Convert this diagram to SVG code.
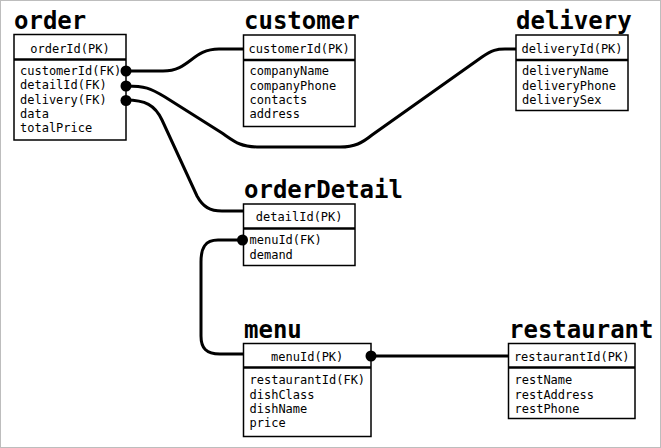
<svg xmlns="http://www.w3.org/2000/svg" width="661" height="448" viewBox="0 0 661 448">
  <style>
    .title { font-family: "DejaVu Sans Mono", "Liberation Mono", monospace; font-size: 24px; font-weight: bold; fill: #000; }
    .field { font-family: "DejaVu Sans Mono", "Liberation Mono", monospace; font-size: 12px; fill: #000; }
    .pk { text-anchor: middle; }
    .box { fill: #fff; stroke: #000; stroke-width: 1.5; }
    .div { stroke: #000; stroke-width: 2.5; }
    .link { fill: none; stroke: #000; stroke-width: 3; }
    .dot { fill: #000; }
  </style>

  <rect x="0.5" y="0.5" width="660" height="447" fill="#fff" stroke="#bdbdbd" stroke-width="1"/>

  <!-- relationships -->
  <g id="connectors">
    <path class="link" d="M126,71 H163 C190,71 192,49 219,49 H243"/>
    <path class="link" d="M126,86 C145,86 150,88 165,97 L222,133 C235,142 240,147 260,147 L340,147 C355,147 362,143 372,135 L482,57 C492,50 497,49 505,49 H516"/>
    <path class="link" d="M126,100 C145,100 155,105 162,120 L197,196 C203,207 210,211 222,211 H243"/>
    <path class="link" d="M243,240 H218 C205,240 201,248 201,262 V336 C201,348 206,354 220,354 H243"/>
    <path class="link" d="M371,356 H508"/>
  </g>

  <g id="order">
    <text class="title" x="14" y="29">order</text>
    <rect class="box" x="14" y="34.5" width="112" height="105.5"/>
    <line class="div" x1="14" y1="59.5" x2="126" y2="59.5"/>
    <text class="field pk" x="70" y="53">orderId(PK)</text>
    <text class="field" x="20" y="75">customerId(FK)</text>
    <text class="field" x="20" y="89.3">detailId(FK)</text>
    <text class="field" x="20" y="103.6">delivery(FK)</text>
    <text class="field" x="20" y="117.9">data</text>
    <text class="field" x="20" y="132.2">totalPrice</text>
    <circle class="dot" cx="126" cy="71" r="5.5"/>
    <circle class="dot" cx="126" cy="86" r="5.5"/>
    <circle class="dot" cx="126" cy="100.5" r="5.5"/>
  </g>

  <g id="customer">
    <text class="title" x="244" y="29">customer</text>
    <rect class="box" x="243.5" y="35" width="111.5" height="91.5"/>
    <line class="div" x1="243.5" y1="60" x2="355" y2="60"/>
    <text class="field pk" x="299.2" y="53">customerId(PK)</text>
    <text class="field" x="249.5" y="75.3">companyName</text>
    <text class="field" x="249.5" y="89.6">companyPhone</text>
    <text class="field" x="249.5" y="103.9">contacts</text>
    <text class="field" x="249.5" y="118.2">address</text>
  </g>

  <g id="delivery">
    <text class="title" x="516" y="29">delivery</text>
    <rect class="box" x="516" y="35" width="112" height="75.5"/>
    <line class="div" x1="516" y1="60" x2="628" y2="60"/>
    <text class="field pk" x="572" y="53">deliveryId(PK)</text>
    <text class="field" x="522" y="75.3">deliveryName</text>
    <text class="field" x="522" y="89.6">deliveryPhone</text>
    <text class="field" x="522" y="103.9">deliverySex</text>
  </g>

  <g id="orderDetail">
    <text class="title" x="244" y="198">orderDetail</text>
    <rect class="box" x="243.5" y="204" width="111.5" height="61.5"/>
    <line class="div" x1="243.5" y1="228.5" x2="355" y2="228.5"/>
    <text class="field pk" x="299.2" y="221">detailId(PK)</text>
    <text class="field" x="249.5" y="244.2">menuId(FK)</text>
    <text class="field" x="249.5" y="258.5">demand</text>
    <circle class="dot" cx="242.5" cy="240" r="5.5"/>
  </g>

  <g id="menu">
    <text class="title" x="244" y="337.5">menu</text>
    <rect class="box" x="243.5" y="343.5" width="127.5" height="93"/>
    <line class="div" x1="243.5" y1="367.5" x2="371" y2="367.5"/>
    <text class="field pk" x="307.2" y="361">menuId(PK)</text>
    <text class="field" x="249.5" y="384.2">restaurantId(FK)</text>
    <text class="field" x="249.5" y="398.5">dishClass</text>
    <text class="field" x="249.5" y="412.8">dishName</text>
    <text class="field" x="249.5" y="427.1">price</text>
    <circle class="dot" cx="371" cy="356" r="5.5"/>
  </g>

  <g id="restaurant">
    <text class="title" x="509" y="337.5">restaurant</text>
    <rect class="box" x="508.5" y="343.5" width="126.5" height="75"/>
    <line class="div" x1="508.5" y1="367.5" x2="635" y2="367.5"/>
    <text class="field pk" x="571.7" y="361">restaurantId(PK)</text>
    <text class="field" x="514.5" y="384.2">restName</text>
    <text class="field" x="514.5" y="398.5">restAddress</text>
    <text class="field" x="514.5" y="412.8">restPhone</text>
  </g>
</svg>
